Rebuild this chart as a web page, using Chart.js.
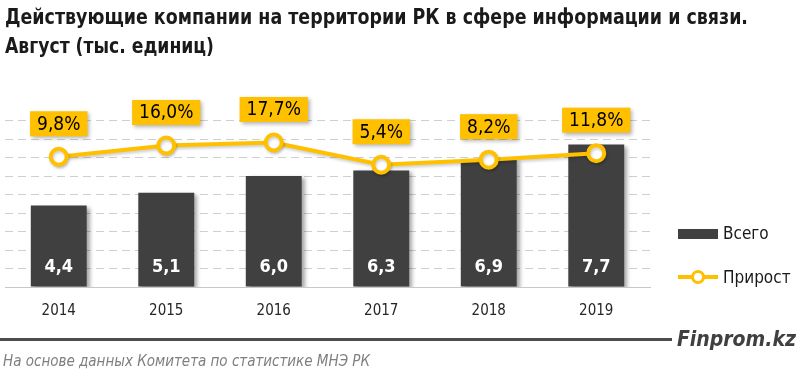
<!DOCTYPE html>
<html><head><meta charset="utf-8">
<script src="https://cdn.jsdelivr.net/npm/chart.js@4.4.0/dist/chart.umd.min.js"></script>
<style>
html,body{margin:0;padding:0;background:#fff;width:800px;height:381px;overflow:hidden;position:relative;font-family:"Liberation Sans Narrow","DejaVu Sans Condensed",sans-serif}
#c{position:absolute;left:0;top:0}
.t{position:absolute;left:5px;font-weight:bold;font-size:22px;color:#1a1a1a;white-space:nowrap;line-height:26px;transform-origin:0 50%}
.lg{position:absolute;font-size:17px;color:#1a1a1a;line-height:20px}
#rule{position:absolute;left:0;top:338px;width:672px;height:3px;background:#4d4d4d}
#brand{position:absolute;right:4px;top:327px;font-size:21px;font-weight:bold;font-style:italic;color:#404040}
#src{position:absolute;left:3px;top:352px;font-size:15px;font-style:italic;color:#7f7f7f}
</style></head>
<body>
<canvas id="c" width="800" height="381"></canvas>
<div class="t" id="t1" style="top:4px">Действующие компании на территории РК в сфере информации и связи.</div>
<div class="t" id="t2" style="top:33px">Август (тыс. единиц)</div>
<div style="position:absolute;left:678px;top:229px;width:40px;height:10px;background:#404040"></div>
<div class="lg" style="left:723px;top:223px">Всего</div>
<div style="position:absolute;left:678px;top:275px;width:40px;height:4px;background:#FFC000"></div>
<div style="position:absolute;left:691px;top:270px;width:8px;height:8px;border:3px solid #FFC000;border-radius:50%;background:#fff"></div>
<div class="lg" style="left:723px;top:267px">Прирост</div>
<div id="rule"></div>
<div id="brand">Finprom.kz</div>
<div id="src">На основе данных  Комитета по статистике МНЭ РК</div>
<script>
const categories = ['2014','2015','2016','2017','2018','2019'];
const totalValues = [4.4, 5.1, 6.0, 6.3, 6.9, 7.7];
const growthValues = [9.8, 16.0, 17.7, 5.4, 8.2, 11.8];
const totalLabels = ['4,4','5,1','6,0','6,3','6,9','7,7'];
const growthLabels = ['9,8%','16,0%','17,7%','5,4%','8,2%','11,8%'];

const GOLD = '#FFC000';
const FONT = '"Liberation Sans Narrow","DejaVu Sans Condensed",sans-serif';

// fit title lines to the reference widths
[['t1', 743], ['t2', 209]].forEach(([id, target]) => {
  const el = document.getElementById(id);
  const w = el.getBoundingClientRect().width;
  el.style.transform = 'scaleX(' + (target / w) + ')';
});

const fx = {
  id: 'fx',
  beforeDatasetDraw(chart, args) {
    const c = chart.ctx; c.save();
    if (chart.data.datasets[args.index].type === 'bar') {
      c.shadowColor = 'rgba(0,0,0,0.35)'; c.shadowBlur = 4; c.shadowOffsetX = 3; c.shadowOffsetY = 2;
    } else {
      c.shadowColor = 'rgba(0,0,0,0.2)'; c.shadowBlur = 3; c.shadowOffsetX = 1; c.shadowOffsetY = 2;
    }
  },
  afterDatasetDraw(chart) { chart.ctx.restore(); },
  afterDatasetsDraw(chart) {
    const c = chart.ctx;
    const y0 = chart.scales.y.getPixelForValue(0);
    const barMeta = chart.getDatasetMeta(1);
    c.save();
    c.fillStyle = '#fff'; c.font = 'bold 18px ' + FONT; c.textAlign = 'center'; c.textBaseline = 'middle';
    barMeta.data.forEach((b, i) => c.fillText(totalLabels[i], b.x, y0 - 20));
    const lineMeta = chart.getDatasetMeta(0);
    c.font = '19px ' + FONT;
    lineMeta.data.forEach((p, i) => {
      const w = c.measureText(growthLabels[i]).width + 14, h = 25;
      const cx = p.x, cy = p.y - 33;
      c.save();
      c.shadowColor = 'rgba(0,0,0,0.3)'; c.shadowBlur = 4; c.shadowOffsetX = 2; c.shadowOffsetY = 2;
      c.fillStyle = GOLD; c.fillRect(cx - w / 2, cy - h / 2, w, h);
      c.restore();
      c.fillStyle = '#000';
      c.fillText(growthLabels[i], cx, cy + 1);
    });
    c.restore();
  }
};

new Chart(document.getElementById('c'), {
  data: {
    labels: categories,
    datasets: [
      { type: 'line', label: 'Прирост', data: growthValues, yAxisID: 'y2', order: 0,
        borderColor: GOLD, borderWidth: 4, pointRadius: 8, pointBorderWidth: 4,
        pointBackgroundColor: '#fff', pointBorderColor: GOLD, tension: 0, clip: false },
      { type: 'bar', label: 'Всего', data: totalValues, yAxisID: 'y', order: 1,
        backgroundColor: '#404040', barPercentage: 0.52, categoryPercentage: 1 }
    ]
  },
  options: {
    responsive: false, animation: false, devicePixelRatio: 1,
    layout: { autoPadding: false, padding: { left: 5, right: 150, top: 102, bottom: 0 } },
    plugins: { legend: { display: false }, tooltip: { enabled: false } },
    scales: {
      x: {
        grid: { display: false, drawTicks: false },
        border: { display: true, color: '#c8c8c8', width: 1 },
        ticks: { padding: 15, color: '#262626', font: { family: FONT, size: 15 } },
        afterFit(s) { s.height = 94; }
      },
      y: {
        min: 0, max: 10,
        ticks: { display: false, stepSize: 1 },
        grid: { drawTicks: false, lineWidth: 1,
          color: ctx => (ctx.tick && (ctx.tick.value === 0 || ctx.tick.value === 10)) ? 'rgba(0,0,0,0)' : '#cfcfcf' },
        border: { display: false, dash: [8, 5] },
        afterFit(s) { s.width = 0; }
      },
      y2: { min: -62, max: 40, display: false }
    }
  },
  plugins: [fx]
});
</script>
</body></html>
